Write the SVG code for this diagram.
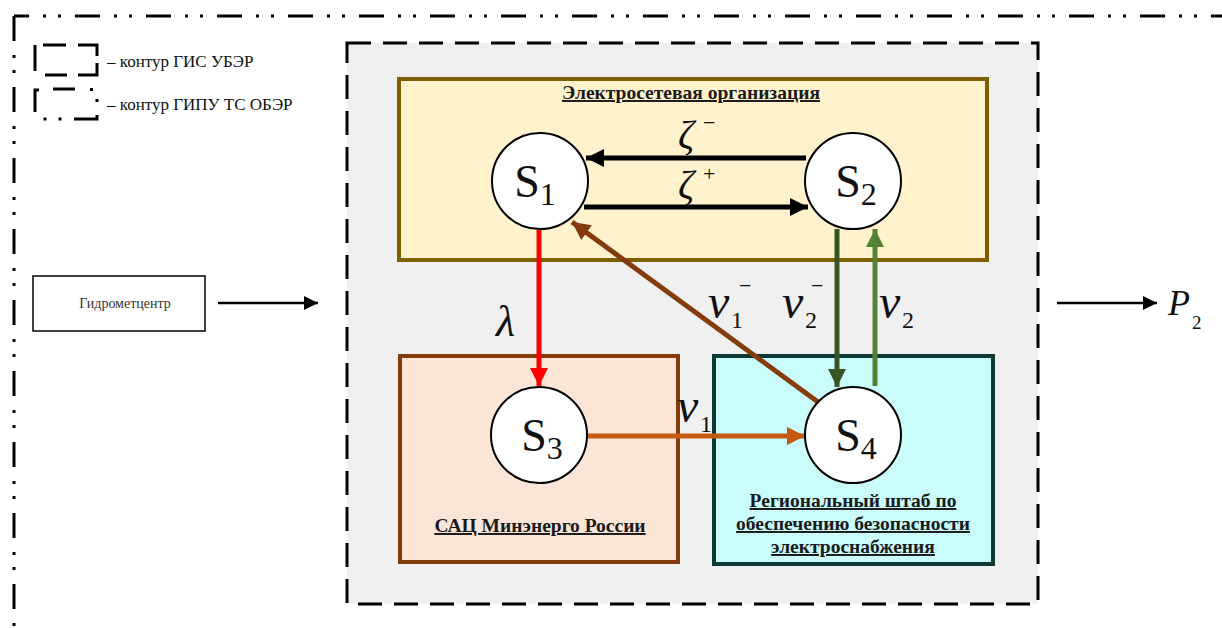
<svg xmlns="http://www.w3.org/2000/svg" width="1222" height="628" viewBox="0 0 1222 628">
  <defs>
    <style>
      .serif { font-family: "Liberation Serif", "Times New Roman", serif; fill: #111; }
      .title { font-family: "Liberation Serif", "Times New Roman", serif; font-weight: bold; font-size: 19.5px; text-decoration: underline; fill: #1a1a1a; }
      .legend { font-family: "Liberation Serif", "Times New Roman", serif; font-size: 17px; fill: #111; }
      .state { fill: #ffffff; stroke: #000; stroke-width: 2; }
      .slabel { font-family: "Liberation Serif", "Times New Roman", serif; font-size: 46px; fill: #111; }
      .greek { font-family: "Liberation Serif", "Times New Roman", serif; font-style: italic; fill: #111; }
      .outer { fill: none; stroke: #000; stroke-width: 3; stroke-dasharray: 25 14 3 12 3 14; }
      .inner { fill: #f0f0f0; stroke: #000; stroke-width: 3; stroke-dasharray: 24 12; }
      .sym { fill: none; stroke: #000; stroke-width: 3; }
    </style>
    <marker id="hBlack" viewBox="0 0 10 10" refX="10" refY="5" markerUnits="userSpaceOnUse" markerWidth="28" markerHeight="18" orient="auto">
      <path d="M0,0 L10,5 L0,10 z" fill="#000"/>
    </marker>
    <marker id="hThin" viewBox="0 0 10 10" refX="10" refY="5" markerUnits="userSpaceOnUse" markerWidth="24" markerHeight="14" orient="auto">
      <path d="M0,0 L10,5 L0,10 z" fill="#000"/>
    </marker>
    <marker id="hRed" viewBox="0 0 10 10" refX="10" refY="5" markerUnits="userSpaceOnUse" markerWidth="28" markerHeight="18" orient="auto">
      <path d="M0,0 L10,5 L0,10 z" fill="#ff0000"/>
    </marker>
    <marker id="hBrown" viewBox="0 0 10 10" refX="10" refY="5" markerUnits="userSpaceOnUse" markerWidth="28" markerHeight="18" orient="auto">
      <path d="M0,0 L10,5 L0,10 z" fill="#843c0c"/>
    </marker>
    <marker id="hOrange" viewBox="0 0 10 10" refX="10" refY="5" markerUnits="userSpaceOnUse" markerWidth="28" markerHeight="18" orient="auto">
      <path d="M0,0 L10,5 L0,10 z" fill="#c55a11"/>
    </marker>
    <marker id="hDkGreen" viewBox="0 0 10 10" refX="10" refY="5" markerUnits="userSpaceOnUse" markerWidth="28" markerHeight="18" orient="auto">
      <path d="M0,0 L10,5 L0,10 z" fill="#375623"/>
    </marker>
    <marker id="hLtGreen" viewBox="0 0 10 10" refX="10" refY="5" markerUnits="userSpaceOnUse" markerWidth="28" markerHeight="18" orient="auto">
      <path d="M0,0 L10,5 L0,10 z" fill="#548235"/>
    </marker>
  </defs>

  <rect x="0" y="0" width="1222" height="628" fill="#ffffff"/>

  <!-- outer dash-dot contour (ГИПУ ТС ОБЭР) -->
  <g id="contour-gipu">
    <line class="outer" x1="14" y1="16" x2="1222" y2="16" stroke-dashoffset="10"/>
    <line class="outer" x1="14" y1="16" x2="14" y2="628"/>
  </g>

  <!-- legend -->
  <g id="legend">
    <path class="sym" d="M35,71 V45 M43,45 H66 M78,45 H97 V56 M97,63 V75 H78 M67,75 H45"/>
    <text class="legend" x="107" y="67">– контур ГИС УБЭР</text>
    <path class="sym" d="M35,112 V90 H39 M53,89 H75 M97,115 V119 H74"/>
    <g fill="#000">
      <rect x="90" y="88" width="3" height="3"/>
      <rect x="95.5" y="99" width="3" height="3"/>
      <rect x="58.5" y="117.5" width="3" height="3"/>
      <rect x="43.5" y="117.5" width="3" height="3"/>
    </g>
    <text class="legend" x="107" y="110">– контур ГИПУ ТС ОБЭР</text>
  </g>

  <!-- inner dashed contour (ГИС УБЭР) -->
  <g id="contour-gis">
    <rect class="inner" x="347" y="43" width="691" height="561"/>
  </g>

  <!-- hydrometeorological centre -->
  <g id="hydromet">
    <rect x="33" y="276" width="172" height="55" fill="#fff" stroke="#000" stroke-width="1.5"/>
    <text class="serif" x="125" y="308" text-anchor="middle" font-size="14" style="fill:#333">Гидрометцентр</text>
  </g>

  <!-- organisation boxes -->
  <g id="grid-org">
    <rect x="399" y="79" width="588" height="181" fill="#fff2cc" stroke="#7f6000" stroke-width="4"/>
    <text class="title" x="691" y="99" text-anchor="middle">Электросетевая организация</text>
  </g>
  <g id="sac">
    <rect x="400" y="356" width="278" height="206" fill="#fbe5d6" stroke="#843c0c" stroke-width="4"/>
    <text class="title" x="540" y="532" text-anchor="middle">САЦ Минэнерго России</text>
  </g>
  <g id="hq">
    <rect x="714" y="356" width="279" height="208" fill="#cbfcfc" stroke="#0b3a34" stroke-width="4"/>
    <text class="title" x="853" y="507" text-anchor="middle">Региональный штаб по</text>
    <text class="title" x="853" y="530" text-anchor="middle">обеспечению безопасности</text>
    <text class="title" x="853" y="553" text-anchor="middle">электроснабжения</text>
  </g>

  <!-- connectors -->
  <g id="connectors" fill="none">
    <line x1="806" y1="158" x2="586" y2="158" stroke="#000" stroke-width="5" marker-end="url(#hBlack)"/>
    <line x1="584" y1="207" x2="808" y2="207" stroke="#000" stroke-width="5" marker-end="url(#hBlack)"/>
    <line x1="539" y1="230" x2="539" y2="386" stroke="#ff0000" stroke-width="5" marker-end="url(#hRed)"/>
    <line x1="818" y1="402" x2="572" y2="222" stroke="#843c0c" stroke-width="5" marker-end="url(#hBrown)"/>
    <line x1="587" y1="436" x2="805" y2="436" stroke="#c55a11" stroke-width="5" marker-end="url(#hOrange)"/>
    <line x1="837" y1="229" x2="837" y2="387" stroke="#375623" stroke-width="5" marker-end="url(#hDkGreen)"/>
    <line x1="875" y1="386" x2="875" y2="229" stroke="#548235" stroke-width="5" marker-end="url(#hLtGreen)"/>
    <line x1="218" y1="303" x2="318" y2="303" stroke="#000" stroke-width="2.5" marker-end="url(#hThin)"/>
    <line x1="1057" y1="303" x2="1157" y2="303" stroke="#000" stroke-width="2.5" marker-end="url(#hThin)"/>
  </g>

  <!-- connector labels -->
  <g id="labels">
    <text class="greek" x="678" y="148" font-size="40">ζ</text>
    <text class="serif" x="703" y="130" font-size="22">−</text>
    <text class="greek" x="678" y="198" font-size="40">ζ</text>
    <text class="serif" x="703" y="181" font-size="22">+</text>
    <text class="greek" x="496" y="336" font-size="44">λ</text>
    <text class="greek" x="708" y="318" font-size="48">ν</text>
    <text class="serif" x="731" y="328" font-size="24">1</text>
    <text class="serif" x="739" y="293" font-size="22">−</text>
    <text class="greek" x="782" y="318" font-size="48">ν</text>
    <text class="serif" x="805" y="328" font-size="24">2</text>
    <text class="serif" x="811" y="293" font-size="22">−</text>
    <text class="greek" x="879" y="318" font-size="48">ν</text>
    <text class="serif" x="902" y="328" font-size="24">2</text>
    <text class="greek" x="677" y="422" font-size="48">ν</text>
    <text class="serif" x="700" y="432" font-size="24">1</text>
    <text class="greek" x="1168" y="315" font-size="36">P</text>
    <text class="serif" x="1192" y="329" font-size="19">2</text>
  </g>

  <!-- states -->
  <g id="s1">
    <circle class="state" cx="540" cy="181" r="48"/>
    <text class="slabel" x="535" y="197" text-anchor="middle">S<tspan font-size="32" dy="8">1</tspan></text>
  </g>
  <g id="s2">
    <circle class="state" cx="853" cy="181" r="48"/>
    <text class="slabel" x="856" y="197" text-anchor="middle">S<tspan font-size="32" dy="8">2</tspan></text>
  </g>
  <g id="s3">
    <circle class="state" cx="539" cy="435" r="48"/>
    <text class="slabel" x="542" y="451" text-anchor="middle">S<tspan font-size="32" dy="8">3</tspan></text>
  </g>
  <g id="s4">
    <circle class="state" cx="853" cy="435" r="48"/>
    <text class="slabel" x="856" y="451" text-anchor="middle">S<tspan font-size="32" dy="8">4</tspan></text>
  </g>
</svg>
